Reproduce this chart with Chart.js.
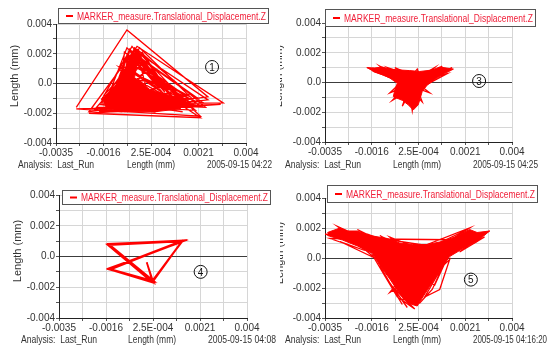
<!DOCTYPE html>
<html>
<head>
<meta charset="utf-8">
<script src="https://cdn.jsdelivr.net/npm/chart.js@4.4.0/dist/chart.umd.min.js"></script>
<style>
  html, body { margin: 0; padding: 0; background: #fff; }
  #wrap { position: relative; width: 560px; height: 350px; overflow: hidden; }
  canvas { position: absolute; }
</style>
</head>
<body>
<div id="wrap">
  <canvas id="c1" width="280" height="175" style="left:0;top:0"></canvas>
  <canvas id="c2" width="258" height="175" style="left:280px;top:0"></canvas>
  <canvas id="c3" width="280" height="175" style="left:0;top:175px"></canvas>
  <canvas id="c4" width="280" height="175" style="left:280px;top:175px"></canvas>
</div>
<script>
// axis ticks (major ones get a label, the ones in between only a grid line)
const xTickValues = [-0.0035, -0.00256, -0.001625, -0.00069, 0.00025, 0.00119, 0.002125, 0.00306, 0.004];
const xTickLabels = ['-0.0035', '', '-0.0016', '', '2.5E-004', '', '0.0021', '', '0.004'];
const yTickValues = [-0.004, -0.003, -0.002, -0.001, 0, 0.001, 0.002, 0.003, 0.004];
const yTickLabels = ['-0.004', '', '-0.002', '', '0.0', '', '0.002', '', '0.004'];

const seriesLabel = 'MARKER_measure.Translational_Displacement.Z';
const panelNumbers = ['1', '3', '4', '5'];
const runStamps = ['2005-09-15 04:22', '2005-09-15 04:25', '2005-09-15 04:08', '2005-09-15 04:16:20'];

// run 1 : wide triangles
const panel1Path = [
  [-0.0027,-0.0016],[-0.0007,0.0036],[0.0025,-0.0009],[-0.0022,-0.0019],[-0.0003,0.0025],[0.0031,-0.0013],
  [-0.0013,-0.0014],[-0.0006,0.0023],[0.0022,-0.0022],[-0.0016,-0.0018],[-0.0004,0.0020],[0.0021,-0.0010],
  [-0.0015,-0.0011],[-0.0007,0.0024],[0.0018,-0.0016],[-0.0019,-0.0016],[-0.0002,0.0017],[0.0023,-0.0013],
  [-0.0010,-0.0018],[-0.0008,0.0021],[0.0016,-0.0008],[-0.0014,-0.0019],[-0.0003,0.0023],[0.0024,-0.0016],
  [-0.0017,-0.0013],[-0.0006,0.0014],[0.0012,-0.0005],[-0.0011,-0.0016],[0.0000,0.0008],[0.0019,-0.0014],
  [-0.0009,-0.0006],[-0.0004,0.0012],[0.0008,-0.0002],[-0.0012,-0.0010],[-0.0005,0.0019],[0.0020,-0.0018],
  [-0.0018,-0.0014],[0.0004,-0.0019],[0.0017,-0.0011],[-0.0016,-0.0008],[-0.0001,0.0021],[0.0014,-0.0017],
  [-0.0013,-0.0019],[0.0010,-0.0013],[-0.0008,0.0003],[0.0005,0.0001],[-0.0002,-0.0018],[0.0018,-0.0007],
  [-0.0015,-0.0017],[-0.0007,0.0017],[0.0022,-0.0015],[-0.0012,-0.0007],[0.0000,-0.0015],[0.0015,-0.0019],
  [-0.0017,-0.0011],[-0.0005,0.0025],[0.0011,-0.0009],[-0.0020,-0.0017],[0.0007,-0.0016],[-0.0006,0.0006],
  [0.0003,-0.0008],[-0.0010,0.0011],[0.0020,-0.0012],[-0.0014,-0.0015],[-0.0003,0.0018],[0.0013,-0.0014],
  [-0.0018,-0.0019],[0.0025,-0.0011],[-0.0004,0.0022],[-0.0009,-0.0019],[-0.0027,-0.0017],[0.0030,-0.0014],
  [-0.0022,-0.0020],[0.0022,-0.0023],[-0.0009,0.0012],[0.0016,-0.0012],
  [-0.0004,0.0024],[-0.0012,-0.0006],[-0.0002,0.0019],[0.0008,-0.0006],[-0.0006,0.0022],[-0.0009,-0.0002],
  [-0.0003,0.0015],[0.0014,-0.0010],[-0.0005,0.0018],[-0.0014,-0.0009],[-0.0001,0.0013],[0.0003,0.0003],
  [-0.0007,0.0019],[-0.0011,0.0000],[-0.0002,0.0024],[0.0018,-0.0009],[-0.0008,0.0015],[-0.0013,-0.0012],
  [-0.0004,0.0016],[0.0006,-0.0004],[-0.0006,0.0010],[-0.0010,-0.0013],[-0.0001,0.0020],[0.0011,-0.0011],
  [-0.0009,0.0008],[0.0002,-0.0012],[-0.0003,0.0021],[-0.0007,-0.0004],[0.0001,0.0010],[0.0016,-0.0014]
];
const panel1Core = [
  [-0.0017,-0.0010],[-0.0011,-0.0002],[-0.0008,0.0009],[-0.0005,0.0018],[-0.0003,0.0013],[-0.0004,0.0004],
  [0.0002,-0.0004],[0.0010,-0.0008],[0.0016,-0.0011],[0.0014,-0.0017],[0.0004,-0.0019],[-0.0008,-0.0019],
  [-0.0015,-0.0017]
];

// run 3 : small bird shape
const panel3Path = [
  [-0.0018,0.0010],[-0.0009,0.0004],[-0.0016,0.0008],[-0.0007,0.0002],[-0.0013,0.0011],[-0.0005,0.0004],
  [-0.0010,0.0010],[-0.0003,0.0006],[-0.0007,0.0010],[0.0000,0.0005],[0.0002,0.0009],[0.0003,0.0004],
  [0.0009,0.0010],[0.0004,0.0002],[0.0012,0.0011],[0.0005,0.0001],[0.0016,0.0010],[0.0006,0.0003],
  [0.0014,0.0006],[0.0004,-0.0003],[0.0007,-0.0007],[0.0002,-0.0004],[0.0004,-0.0013],[0.0001,-0.0008],
  [0.0000,-0.0019],[-0.0001,-0.0007],[-0.0004,-0.0016],[-0.0002,-0.0006],[-0.0008,-0.0012],[-0.0003,-0.0003],
  [-0.0009,-0.0007],[-0.0004,0.0001],[-0.0012,0.0006],[-0.0005,0.0003],[-0.0017,0.0009]
];
const panel3Core = [
  [-0.00183,0.00100],[-0.0015,0.00098],[-0.0012,0.00104],[-0.0009,0.0009],[-0.0005,0.00084],[-0.0001,0.0008],
  [0.0003,0.00074],[0.0008,0.00084],[0.0011,0.00104],[0.00165,0.0009],[0.0013,0.0006],[0.00098,0.00028],
  [0.0006,-0.00017],[0.0004,-0.0006],[0.00024,-0.0015],[0.00004,-0.00185],[-0.00016,-0.0015],[-0.0004,-0.0012],
  [-0.00076,-0.00095],[-0.0007,-0.0005],[-0.0006,-0.00005],[-0.0009,0.0003],[-0.00116,0.0005],[-0.00156,0.00073]
];

// run 4 : a few repeated triangles
const panel4Path = [
  [-0.00158,0.00080],[0.00145,0.00105],[-0.00150,-0.00080],[0.00025,-0.00162],[0.00140,0.00098],
  [-0.00155,0.00074],[0.00022,-0.00168],[-0.00146,-0.00086],[0.00143,0.00102],[-0.00152,0.00082],
  [0.00028,-0.00160],[-0.00152,-0.00078],[0.00138,0.00094],[0.00020,-0.00165],[-0.00148,-0.00083],
  [0.00146,0.00100],[-0.00157,0.00077],[0.00026,-0.00166],[0.00000,-0.00038],[0.00022,-0.00158],
  [0.00141,0.00096],[-0.00151,-0.00084],[0.00024,-0.00163],[-0.00154,0.00078],[0.00144,0.00104],
  [0.00023,-0.00161],[-0.00149,-0.00081]
];

// run 5 : wide V shape
const panel5Path = [
  [-0.0035,0.0016],[-0.0021,0.0010],[-0.0030,0.0021],[-0.0018,0.0012],[-0.0027,0.0018],[-0.0014,0.0011],
  [-0.0022,0.0019],[-0.0011,0.0010],[-0.0018,0.0016],[-0.0007,0.0009],[-0.0013,0.0015],[-0.0004,0.0007],
  [-0.0009,0.0014],[0.0000,0.0008],[-0.0016,0.0002],[-0.0006,-0.0026],[-0.0013,-0.0005],[-0.0004,-0.0031],
  [-0.0011,-0.0012],[-0.0002,-0.0033],[-0.0008,-0.0019],[0.0001,-0.0034],[-0.0005,-0.0027],[0.0003,-0.0030],
  [0.0008,-0.0021],[0.0013,-0.0003],[0.0005,-0.0026],[0.0011,-0.0021],[0.0015,-0.0001],[0.0006,-0.0015],
  [0.0009,-0.0018],[0.0014,0.0000],[0.0003,0.0007],[0.0023,0.0020],[0.0010,0.0006],[0.0031,0.0018],
  [0.0015,0.0004],[0.0027,0.0016],[0.0012,0.0011],[0.0021,0.0018],[0.0017,0.0006],[0.0029,0.0014],
  [0.0019,0.0004],[0.0025,0.0012],[-0.0033,0.0013],[-0.0019,0.0005],[-0.0029,0.0011],[-0.0015,0.0000],
  [-0.0025,0.0014],[-0.0010,0.0004],[-0.0020,0.0015],[0.0007,0.0008],[-0.0006,-0.0009],[0.0004,-0.0018],
  [-0.0002,-0.0008],[-0.0009,-0.0023],[0.0000,-0.0014],[-0.0012,-0.0007]
];
const panel5Core = [
  [-0.0034,0.0017],[-0.0029,0.0020],[-0.0026,0.0018],[-0.0022,0.0018],[-0.0017,0.0015],[-0.0010,0.0013],
  [-0.0005,0.0010],[0.0000,0.0009],[0.0006,0.0009],[0.0012,0.0011],[0.0017,0.0014],[0.0023,0.0019],
  [0.0026,0.0017],[0.0031,0.0018],[0.0026,0.0011],[0.0020,0.0006],[0.0015,0.0001],[0.0012,-0.0006],
  [0.0009,-0.0014],[0.0005,-0.0024],[0.0002,-0.0032],[-0.0002,-0.0030],[-0.0005,-0.0024],[-0.0009,-0.0014],
  [-0.0013,-0.0005],[-0.0016,0.0003],[-0.0022,0.0008],[-0.0028,0.0012],[-0.0034,0.0015]
];

const RED = '#ff0000';
const LEGEND_RED = '#f0203a';
const INK = '#333';
const FONT = "'Liberation Sans Narrow','Arial Narrow','Liberation Sans',Arial,sans-serif";
const WIDE_FONT = "'Liberation Sans',Arial,sans-serif";

// draws text squeezed to a given width when it would be wider
function fitText(ctx, text, x, y, maxW) {
  const w = ctx.measureText(text).width;
  ctx.save();
  ctx.translate(x, y);
  if (w > maxW) ctx.scale(maxW / w, 1);
  ctx.fillText(text, 0, 0);
  ctx.restore();
}

const decor = {
  id: 'decor',
  afterDraw(chart, args, o) {
    const ctx = chart.ctx;
    const xs = chart.scales.x, ys = chart.scales.y;
    ctx.save();

    // legend box
    const [lx, ly, lw, lh] = o.legend;
    ctx.fillStyle = '#fff';
    ctx.fillRect(lx, ly, lw, lh);
    ctx.strokeStyle = '#555';
    ctx.lineWidth = 1;
    ctx.strokeRect(lx + 0.5, ly + 0.5, lw, lh);
    ctx.strokeStyle = RED;
    ctx.lineWidth = 2;
    ctx.beginPath();
    ctx.moveTo(lx + 8, ly + lh / 2 + 0.5);
    ctx.lineTo(lx + 15, ly + lh / 2 + 0.5);
    ctx.stroke();
    ctx.fillStyle = LEGEND_RED;
    ctx.font = '11px ' + FONT;
    ctx.textBaseline = 'middle';
    ctx.textAlign = 'left';
    fitText(ctx, seriesLabel, lx + 19, ly + lh / 2 + 1, lw - 21);

    // circled run number
    const cx = xs.getPixelForValue(o.num[0]);
    const cy = ys.getPixelForValue(o.num[1]);
    ctx.strokeStyle = '#111';
    ctx.lineWidth = 1;
    ctx.beginPath();
    ctx.arc(cx, cy, 6.5, 0, Math.PI * 2);
    ctx.stroke();
    ctx.fillStyle = '#111';
    ctx.font = '10px ' + WIDE_FONT;
    ctx.textAlign = 'center';
    ctx.fillText(o.number, cx, cy + 1);

    // footer line
    ctx.fillStyle = INK;
    ctx.font = '11px ' + FONT;
    ctx.textAlign = 'left';
    fitText(ctx, 'Analysis:  Last_Run', o.foot[0], o.footY, 76);
    ctx.textAlign = 'center';
    fitText(ctx, 'Length (mm)', o.foot[1], o.footY, 48);
    ctx.textAlign = 'left';
    fitText(ctx, o.stamp, o.foot[2], o.footY, o.stampW);

    // y axis title
    ctx.save();
    ctx.translate(o.yTitle[0], o.yTitle[1]);
    ctx.rotate(-Math.PI / 2);
    ctx.textAlign = 'center';
    ctx.font = '11px ' + WIDE_FONT;
    ctx.fillText('Length (mm)', 0, 0);
    ctx.restore();

    ctx.restore();
  }
};

function pts(path) {
  return path.map(p => ({ x: p[0], y: p[1] }));
}

function gridColor(c) {
  return c.tick && Math.abs(c.tick.value) < 1e-12 ? '#3c3c3c' : '#d6d6d6';
}

function buildPanel(p) {
  const [L, R, T, B] = p.area;
  const datasets = [];
  if (p.core) {
    datasets.push({
      data: pts(p.core), showLine: true, fill: 'shape',
      backgroundColor: RED, borderColor: RED, borderWidth: 1, pointRadius: 0
    });
  }
  datasets.push({
    label: seriesLabel, data: pts(p.path), showLine: true, fill: false,
    borderColor: RED, borderWidth: p.lineWidth, pointRadius: 0, tension: 0
  });

  new Chart(document.getElementById(p.id), {
    type: 'scatter',
    data: { datasets },
    options: {
      responsive: false,
      animation: false,
      devicePixelRatio: 1,
      layout: { padding: { left: 0, top: T, right: p.w - R, bottom: 0 } },
      plugins: {
        legend: { display: false },
        tooltip: { enabled: false },
        decor: p
      },
      scales: {
        x: {
          type: 'linear', min: -0.0035, max: 0.004,
          afterBuildTicks: s => { s.ticks = xTickValues.map(v => ({ value: v })); },
          afterFit: s => { s.height = p.h - B; },
          ticks: {
            autoSkip: false, maxRotation: 0, minRotation: 0, padding: 1, color: INK,
            font: { family: FONT, size: 10 },
            callback: (v, i) => xTickLabels[i]
          },
          grid: { color: gridColor, tickColor: '#555', tickLength: 3 },
          border: { color: '#222' }
        },
        y: {
          type: 'linear', min: -0.004, max: 0.004,
          afterBuildTicks: s => { s.ticks = yTickValues.map(v => ({ value: v })); },
          afterFit: s => { s.width = L; },
          ticks: {
            autoSkip: false, padding: 1, color: INK,
            font: { family: FONT, size: 10 },
            callback: (v, i) => yTickLabels[i]
          },
          grid: { color: gridColor, tickColor: '#555', tickLength: 3 },
          border: { color: '#222' }
        }
      }
    },
    plugins: [decor]
  });
}

buildPanel({
  id: 'c1', w: 280, h: 175, area: [56, 246, 24, 143],
  path: panel1Path, core: panel1Core, lineWidth: 1.3,
  legend: [58, 8, 210, 15], number: panelNumbers[0], num: [0.00266, 0.00111],
  foot: [18, 151, 207], footY: 165, stamp: runStamps[0], stampW: 65, yTitle: [15, 76]
});
buildPanel({
  id: 'c2', w: 258, h: 175, area: [45, 232, 23, 142],
  path: panel3Path, core: panel3Core, lineWidth: 1.3,
  legend: [45, 9, 210, 17], number: panelNumbers[1], num: [0.00268, 0.0001],
  foot: [5, 137, 193], footY: 165, stamp: runStamps[1], stampW: 65, yTitle: [-1, 76]
});
buildPanel({
  id: 'c3', w: 280, h: 175, area: [59, 247, 20, 143],
  path: panel4Path, core: null, lineWidth: 1.8,
  legend: [62, 15, 208, 14], number: panelNumbers[2], num: [0.00215, -0.001],
  foot: [21, 152, 208], footY: 165, stamp: runStamps[2], stampW: 68, yTitle: [18, 76]
});
buildPanel({
  id: 'c4', w: 280, h: 175, area: [45, 232, 23, 143],
  path: panel5Path, core: panel5Core, lineWidth: 1.3,
  legend: [47, 10, 210, 17], number: panelNumbers[3], num: [0.00235, -0.00144],
  foot: [5, 137, 193], footY: 165, stamp: runStamps[3], stampW: 74, yTitle: [0, 78]
});
</script>
</body>
</html>
